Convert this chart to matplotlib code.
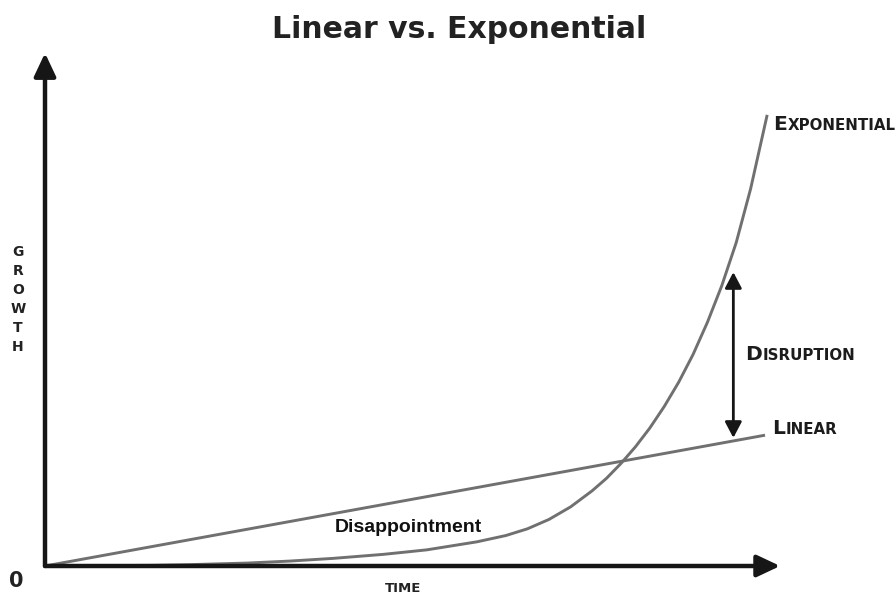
import matplotlib
matplotlib.use("Agg")
import matplotlib.pyplot as plt
from matplotlib.patches import FancyArrowPatch
from matplotlib.offsetbox import TextArea, HPacker, AnnotationBbox

# Growth curves (time 0..100, growth in arbitrary units)
linear_time = [0, 100]
linear_growth = [0, 29.2]

exp_time = [0, 15, 20, 28, 34, 40, 47, 53, 60, 64, 67, 70, 73, 76, 78, 80,
            82, 84, 86, 88, 90, 92, 94, 96, 98, 100.3]
exp_growth = [0, 0.15, 0.3, 0.65, 1.1, 1.7, 2.6, 3.6, 5.4, 6.8, 8.3, 10.4,
              13.2, 16.8, 19.6, 22.9, 26.6, 30.8, 35.6, 41.0, 47.2, 54.4,
              62.6, 72.2, 84.2, 100.7]

# Axis extents and the disruption gap
x_axis_end = 102.1
y_axis_end = 114.5
gap_time = 95.6
gap_low = 28.6
gap_high = 65.6

title = "Linear vs. Exponential"
curve_color = "#707070"
ink = "#161616"

fig = plt.figure(figsize=(8.96, 5.94), dpi=100)
ax = fig.add_axes([0, 0, 1, 1])
ax.set_xlim(-6.25, 118.19)
ax.set_ylim(-6.25, 126.34)
ax.axis("off")

ax.plot(linear_time, linear_growth, color=curve_color, lw=2.1,
        solid_capstyle="butt", solid_joinstyle="round", zorder=2)
ax.plot(exp_time, exp_growth, color=curve_color, lw=2.1,
        solid_capstyle="butt", solid_joinstyle="round", zorder=2)

# Axes drawn as arrows from the origin
for end in [(x_axis_end, 0), (0, y_axis_end)]:
    ax.add_patch(FancyArrowPatch((0, 0), end,
                                 arrowstyle="-|>,head_length=0.7,head_width=0.33",
                                 mutation_scale=20, lw=3.2, color=ink,
                                 shrinkA=0, shrinkB=0, zorder=3))

# Disruption gap arrow
ax.add_patch(FancyArrowPatch((gap_time, gap_low), (gap_time, gap_high),
                             arrowstyle="<|-|>,head_length=0.8,head_width=0.42",
                             mutation_scale=12, lw=2.0, color=ink,
                             shrinkA=0, shrinkB=0, zorder=3))

label_font = "DejaVu Sans"

fig.text(0.512, 1 - 30 / 594, title, ha="center", va="center",
         fontsize=21.5, fontweight="bold", color="#222222", family=label_font)

# Vertical stacked axis label
for i, ch in enumerate("GROWTH"):
    fig.text(18 / 896, 1 - (252 + i * 19) / 594, ch, ha="center", va="center",
             fontsize=10, fontweight="bold", color="#222222", family=label_font)

fig.text(16 / 896, 1 - 581 / 594, "0", ha="center", va="center",
         fontsize=15, fontweight="bold", color="#222222", family=label_font)
fig.text(403 / 896, 1 - 589 / 594, "TIME", ha="center", va="center",
         fontsize=9.5, fontweight="bold", color="#222222", family=label_font)

ax.text(50.4, 8.7, "Disappointment", ha="center", va="center",
        fontsize=14, fontweight="bold", color="#111111",
        family="Liberation Sans")


def small_caps(word, xy, big=14.6, small=10.8):
    parts = [TextArea(word[0], textprops=dict(fontsize=big, fontweight="bold",
                                              color="#1c1c1c", family=label_font)),
             TextArea(word[1:].upper(), textprops=dict(fontsize=small, fontweight="bold",
                                                       color="#1c1c1c", family=label_font))]
    box = HPacker(children=parts, align="baseline", pad=0, sep=0.5)
    ab = AnnotationBbox(box, xy, xycoords="data", box_alignment=(0, 0.5),
                        frameon=False, pad=0)
    ax.add_artist(ab)


small_caps("Exponential", (101.1, 98.5))
small_caps("Disruption", (97.3, 47.3))
small_caps("Linear", (101.0, 30.6))

fig.savefig("out.png", dpi=100, facecolor="white")
